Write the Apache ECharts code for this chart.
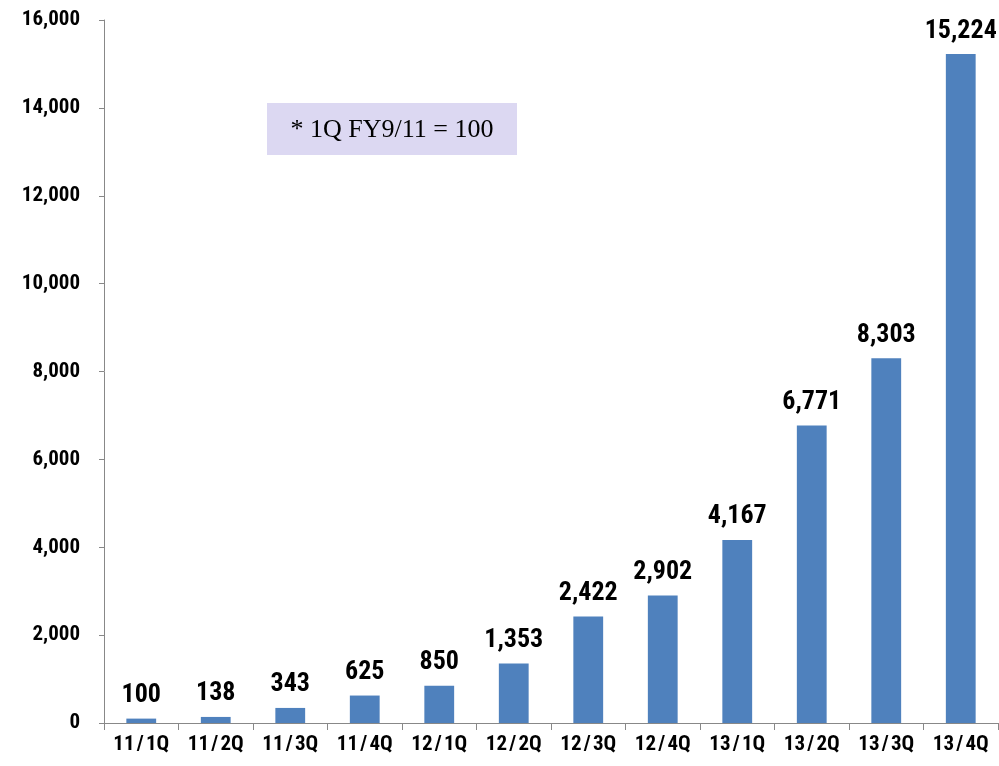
<!DOCTYPE html>
<html>
<head>
<meta charset="utf-8">
<script src="https://cdn.jsdelivr.net/npm/echarts@6/dist/echarts.min.js"></script>
<style>
  html, body { margin: 0; padding: 0; background: #fff; }
  #chart { width: 999px; height: 766px; }
</style>
</head>
<body>
<div id="chart"></div>
<script>
// Quarterly index values (1Q FY9/11 = 100)
const categories = ['11/1Q', '11/2Q', '11/3Q', '11/4Q', '12/1Q', '12/2Q', '12/3Q', '12/4Q', '13/1Q', '13/2Q', '13/3Q', '13/4Q'];
const indexValues = [100, 138, 343, 625, 850, 1353, 2422, 2902, 4167, 6771, 8303, 15224];
const yTicks = [0, 2000, 4000, 6000, 8000, 10000, 12000, 14000, 16000];
const noteText = '* 1Q FY9/11 = 100';

const labelFont = '"Liberation Sans Narrow", "Roboto Condensed", "DejaVu Sans Condensed", "Liberation Sans", sans-serif';
const fmt = v => v.toLocaleString('en-US');

const chart = echarts.init(document.getElementById('chart'));
chart.setOption({
  animation: false,
  grid: { left: 104, right: 1, top: 20, bottom: 43, containLabel: false },
  xAxis: {
    type: 'category',
    data: categories,
    axisLine: { lineStyle: { color: '#888', width: 1 } },
    axisTick: { show: true, length: 7, lineStyle: { color: '#888' } },
    axisLabel: {
      interval: 0,
      hideOverlap: false,
      color: '#000', fontFamily: labelFont, fontWeight: 'bold', fontSize: 21, margin: 11,
      // slightly open up the slash like the wide-glyph original
      formatter: v => v.replace('/', '\u200A/\u200A')
    }
  },
  yAxis: {
    type: 'value',
    min: yTicks[0],
    max: yTicks[yTicks.length - 1],
    interval: yTicks[1] - yTicks[0],
    axisLine: { show: true, lineStyle: { color: '#888', width: 1 } },
    axisTick: { show: true, length: 5, lineStyle: { color: '#888' } },
    splitLine: { show: false },
    axisLabel: { color: '#000', fontFamily: labelFont, fontWeight: 'bold', fontSize: 21, margin: 24, formatter: v => fmt(v) }
  },
  series: [{
    type: 'bar',
    data: indexValues,
    barWidth: '40%',
    itemStyle: { color: '#4f81bd' },
    label: {
      show: true,
      position: 'top',
      distance: 10,
      color: '#000',
      fontFamily: labelFont,
      fontWeight: 'bold',
      fontSize: 26,
      formatter: p => fmt(p.value)
    }
  }],
  graphic: [{
    type: 'group',
    left: 267,
    top: 103,
    children: [
      { type: 'rect', shape: { x: 0, y: 0, width: 250, height: 52 }, style: { fill: '#dcd8f2' } },
      { type: 'text', x: 125, y: 27, style: { text: noteText, fill: '#000', font: '26px "Liberation Serif", "Times New Roman", serif', align: 'center', verticalAlign: 'middle' } }
    ]
  }]
});
</script>
</body>
</html>
